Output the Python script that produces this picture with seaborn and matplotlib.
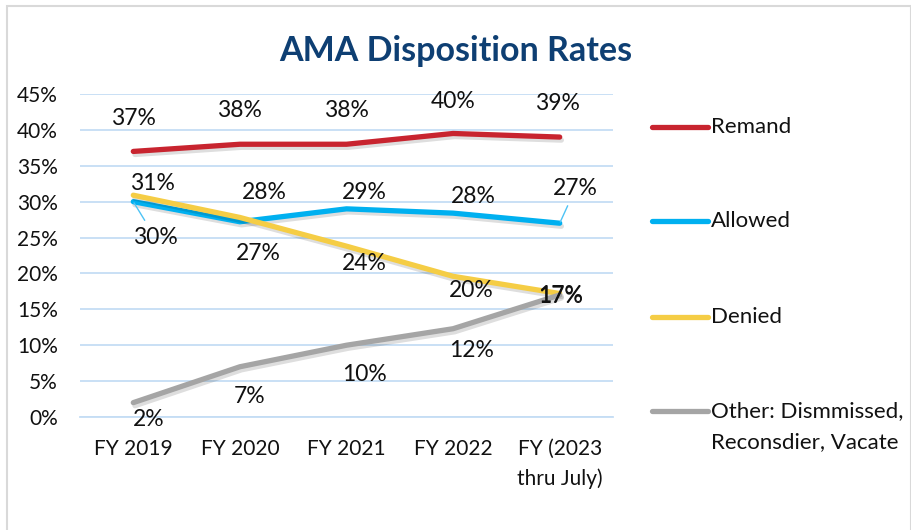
import seaborn as sns
import matplotlib.pyplot as plt
import matplotlib.patheffects as pe
from matplotlib.lines import Line2D
from matplotlib.patches import Rectangle
import pandas as pd

# dados
anos = ["FY 2019", "FY 2020", "FY 2021", "FY 2022", "FY (2023\nthru July)"]
remand = [37.0, 38.0, 38.0, 39.5, 39.0]
allowed = [30.0, 27.2, 29.0, 28.4, 27.0]
denied = [30.9, 27.8, 23.8, 19.6, 17.2]
other = [2.0, 7.0, 10.0, 12.3, 17.0]
rotulos = ["37%", "38%", "38%", "40%", "39%"]
rot_allowed = ["30%", "27%", "29%", "28%", "27%"]
rot_denied = ["31%", "28%", "24%", "20%", "17%"]
rot_other = ["2%", "7%", "10%", "12%", "17%"]

series = ["Remand", "Allowed", "Denied", "Other: Dismmissed,\nReconsdier, Vacate"]
cores = ["#C8242F", "#00B0F0", "#F5CD45", "#A5A5A5"]

linhas = []
for nome, vals in zip(series, [remand, allowed, denied, other]):
    for i, v in enumerate(vals):
        linhas.append({"pos": i, "valor": v / 100, "serie": nome})
df = pd.DataFrame(linhas)

sns.set_style("white")
plt.rcParams["font.family"] = ["Lato", "DejaVu Sans"]

fig = plt.figure(figsize=(9.11, 5.30), dpi=100)
ax = fig.add_axes([80 / 911, 1 - 417 / 530, 533 / 911, 323 / 530])

sns.lineplot(data=df, x="pos", y="valor", hue="serie", palette=cores,
             linewidth=3.8, legend=False, ax=ax, sort=False)

sombra = [pe.SimpleLineShadow(offset=(1.2, -2.2), shadow_color="black", alpha=0.13),
          pe.Normal()]
for ln in ax.lines:
    ln.set_path_effects(sombra)
    ln.set_solid_capstyle("round")
    ln.set_solid_joinstyle("round")

ax.set_xlim(-0.5, 4.5)
ax.set_ylim(0, 0.45)
ax.set_yticks([i * 0.05 for i in range(10)])
ax.set_yticklabels([f"{i * 5}%" for i in range(10)])
ax.yaxis.grid(True, color="#C5DDF4", linewidth=1.3)
ax.tick_params(axis="y", length=0, pad=16, labelsize=15, colors="#111111")

ax.set_xticks([-0.5, 0.5, 1.5, 2.5, 3.5, 4.5])
ax.set_xticklabels([])
ax.set_xticks(range(5), minor=True)
ax.set_xticklabels(anos, minor=True, linespacing=1.55)
ax.tick_params(axis="x", which="major", length=7, width=1.3, color="#C5DDF4", direction="out")
ax.tick_params(axis="x", which="minor", length=0, pad=16, labelsize=15, colors="#111111")
ax.set_xlabel("")
ax.set_ylabel("")
for lado in ["top", "right", "left"]:
    ax.spines[lado].set_visible(False)
ax.spines["bottom"].set_color("#C5DDF4")
ax.spines["bottom"].set_linewidth(1.3)
ax.spines["bottom"].set_zorder(0.5)

# rótulos de dados (deslocamento em pixels)
desl_remand = [(0, 33), (0, 34), (0, 34), (0, 32), (-2, 34)]
desl_allowed = [(22, -36), (18, -32), (18, 16), (20, 17), (16, 35)]
desl_denied = [(19, 12), (24, 25), (18, -17), (18, -14), (1, -3)]
desl_other = [(15, -17), (10, -30), (18, -29), (18, -22), (1, -1)]

def rotular(vals, textos, desl, seta=()):
    for i, (v, t, d) in enumerate(zip(vals, textos, desl)):
        props = None
        if i in seta:
            props = dict(arrowstyle="-", color="#4DC3F5", lw=1, shrinkA=3, shrinkB=1)
        ax.annotate(t, (i, v / 100), xytext=d, textcoords="offset pixels",
                    ha="center", va="center", fontsize=16.5, color="#111111",
                    arrowprops=props)

rotular(remand, rotulos, desl_remand)
rotular(allowed, rot_allowed, desl_allowed, seta=(0, 4))
rotular(denied, rot_denied, desl_denied)
rotular(other, rot_other, desl_other)

fig.text(456 / 911, 1 - 51 / 530, "AMA Disposition Rates", ha="center", va="center",
         fontsize=24.5, fontweight="bold", color="#0E3F73")

# legenda à direita
for nome, cor, y in zip(series, cores, [127, 221, 317, 411]):
    fy = 1 - y / 530
    fig.add_artist(Line2D([652 / 911, 708 / 911], [fy, fy], color=cor, lw=3.8,
                          solid_capstyle="round"))
    fig.text(711 / 911, fy + 10 / 530, nome, ha="left", va="top", fontsize=16,
             color="#111111", linespacing=1.7)

fig.add_artist(Rectangle((7 / 911, -0.01), 904 / 911, 1 - 6 / 530 + 0.01,
                         fill=False, edgecolor="#D9D9D9", lw=1.5,
                         transform=fig.transFigure))

fig.savefig("out.png", dpi=100)
